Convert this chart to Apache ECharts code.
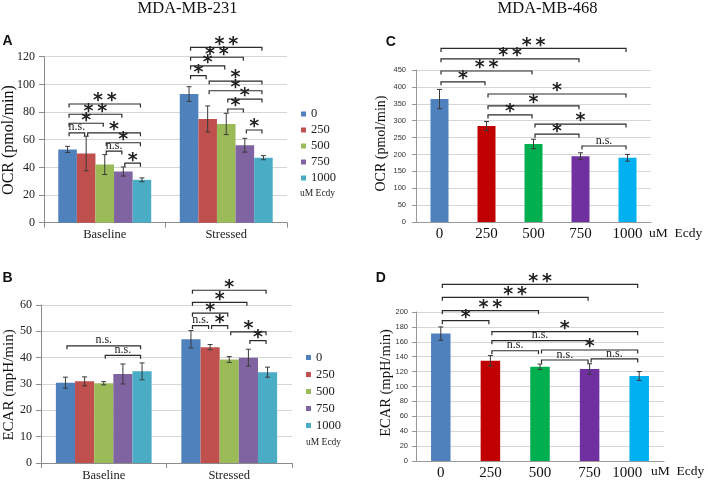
<!DOCTYPE html>
<html><head><meta charset="utf-8">
<script src="https://cdn.jsdelivr.net/npm/echarts@6/dist/echarts.min.js"></script>
<style>html,body{margin:0;padding:0;background:#fff}#c{width:708px;height:482px}</style>
</head><body><div id="c"></div>
<script>
// ---------- data ----------
const doses = ['0', '250', '500', '750', '1000'];
const groups = ['Baseline', 'Stressed'];
// Panel A (MDA-MB-231 OCR): per dose [Baseline, Stressed]
const ocrA = [[53, 93], [50, 75], [42, 71.4], [37, 56], [31, 47]];
const ocrAErr = [[2.2, 5.3], [12.5, 9.4], [7.2, 7.7], [3.3, 5], [1.4, 1.5]];
// Panel B (MDA-MB-231 ECAR)
const ecarB = [[30.5, 47], [31, 44], [30.3, 39.3], [33.8, 40], [34.8, 34.5]];
const ecarBErr = [[2.1, 3.3], [1.7, 1], [0.6, 1.1], [3.8, 3.2], [3.2, 1.9]];
// Panel C (MDA-MB-468 OCR)
const ocrC = [364, 284, 231, 195, 190];
const ocrCErr = [28.5, 13.5, 14, 10, 10];
// Panel D (MDA-MB-468 ECAR)
const ecarD = [171, 134.5, 126.5, 123.5, 114];
const ecarDErr = [9, 7, 3.6, 7, 6];
// y axis ticks [min, max, interval]
const ticksA = [0, 120, 20], ticksB = [0, 60, 10], ticksC = [0, 450, 50], ticksD = [0, 200, 20];
// significance brackets, grouped panels: [group, fromDose, toDose, y]
const sigA = [[0,0,4,85.8],[0,0,3,78.4],[0,0,2,71.9],[0,0,1,65],[0,1,4,65],[0,2,4,57.8],[0,2,3,51.8],[0,3,4,43],
  [1,0,4,126.8],[1,0,3,119.6],[1,0,2,113.3],[1,0,1,106.3],[1,1,4,102.4],[1,1,4,95.4],[1,2,4,89.4],[1,2,3,82.2],[1,3,4,67]];
const sigALabels = ['**','**','*','n.s.','*','*','n.s.','*','**','**','*','*','*','*','*','*','*'];
const sigB = [[0,0,4,44.5],[0,2,4,40.9],[1,0,4,65.6],[1,0,3,61],[1,0,2,56.9],[1,0,1,52.2],[1,1,2,52.2],[1,2,4,49.8],[1,3,4,46.5]];
const sigBLabels = ['n.s.','n.s.','*','*','*','n.s.','*','*','*'];
// single-group panels: [fromDose, toDose, y]
const sigC = [[0,4,514],[0,3,483],[0,2,447],[0,1,415],[1,4,379],[1,3,344],[1,2,317],[2,4,290],[2,3,260],[3,4,225]];
const sigCLabels = ['**','**','**','*','*','*','*','*','*','n.s.'];
const sigD = [[0,4,237],[0,3,219.7],[0,2,201.8],[0,1,188.4],[1,4,173.6],[1,3,161.5],[1,2,148],[2,4,149],[2,3,135.6],[3,4,137]];
const sigDLabels = ['**','**','**','*','*','n.s.','n.s.','*','n.s.','n.s.'];

const paletteAB = ['#4F81BD', '#C0504D', '#9BBB59', '#8064A2', '#4BACC6'];
const paletteCD = ['#4F81BD', '#C00000', '#00B050', '#7030A0', '#00B0F0'];

// ---------- helpers ----------
const SERIF = 'Liberation Serif';
const gapA = 0.235, gapB = 0.237;

function bracketShape(x1, x2, py, lab) {
  const isStar = lab.indexOf('*') >= 0;
  const txt = lab === '**' ? '*\u2009*' : lab;
  return {
    type: 'group', children: [
      { type: 'polyline', shape: { points: [[x1, py + 3.5], [x1, py], [x2, py], [x2, py + 3.5]] },
        style: { stroke: '#2b2b2b', lineWidth: 1.2, fill: null } },
      { type: 'text', style: {
          text: txt, x: (x1 + x2) / 2, y: isStar ? py + 7 : py + 0.5,
          align: 'center', verticalAlign: 'bottom',
          font: isStar ? 'bold 19px "DejaVu Sans"' : '12px "Liberation Serif"',
          fill: '#222' } }
    ]
  };
}

function groupedBracketSeries(axisIdx, sig, labels, gap) {
  return {
    type: 'custom', xAxisIndex: axisIdx, yAxisIndex: axisIdx, clip: false, z: 5,
    encode: { x: 0, y: 3 }, silent: true,
    data: sig,
    renderItem: function (p, api) {
      const g = api.value(0), a = api.value(1), b = api.value(2), y = api.value(3);
      const c = api.coord([g, y]);
      const band = api.size([1, 0])[0];
      const bw = band * (1 - gap) / doses.length;
      const x1 = c[0] + (a - 2) * bw + 1.5;
      const x2 = c[0] + (b - 2) * bw - 1.5;
      return bracketShape(x1, x2, c[1], labels[p.dataIndex]);
    }
  };
}

function singleBracketSeries(axisIdx, sig, labels) {
  return {
    type: 'custom', xAxisIndex: axisIdx, yAxisIndex: axisIdx, clip: false, z: 5,
    encode: { x: 0, y: 2 }, silent: true,
    data: sig,
    renderItem: function (p, api) {
      const a = api.value(0), b = api.value(1), y = api.value(2);
      const c1 = api.coord([a, y]), c2 = api.coord([b, y]);
      return bracketShape(c1[0] + 1.5, c2[0] - 1.5, c1[1], labels[p.dataIndex]);
    }
  };
}

function errShape(x, yTop, yBot) {
  const w = 2.5;
  const st = { stroke: '#3a3a3a', lineWidth: 1 };
  return { type: 'group', children: [
    { type: 'line', shape: { x1: x, y1: yTop, x2: x, y2: yBot }, style: st },
    { type: 'line', shape: { x1: x - w, y1: yTop, x2: x + w, y2: yTop }, style: st },
    { type: 'line', shape: { x1: x - w, y1: yBot, x2: x + w, y2: yBot }, style: st }
  ]};
}

function groupedErrSeries(axisIdx, vals, errs, gap) {
  const data = [];
  vals.forEach((row, s) => row.forEach((v, g) => data.push([g, s, v, errs[s][g]])));
  return {
    type: 'custom', xAxisIndex: axisIdx, yAxisIndex: axisIdx, clip: false, z: 4, silent: true,
    encode: { x: 0, y: 2 }, data: data,
    renderItem: function (p, api) {
      const g = api.value(0), s = api.value(1), v = api.value(2), e = api.value(3);
      const band = api.size([1, 0])[0];
      const bw = band * (1 - gap) / doses.length;
      const t = api.coord([g, v + e]), b = api.coord([g, v - e]);
      return errShape(t[0] + (s - 2) * bw, t[1], b[1]);
    }
  };
}

function singleErrSeries(axisIdx, vals, errs) {
  return {
    type: 'custom', xAxisIndex: axisIdx, yAxisIndex: axisIdx, clip: false, z: 4, silent: true,
    encode: { x: 0, y: 1 }, data: vals.map((v, i) => [i, v, errs[i]]),
    renderItem: function (p, api) {
      const i = api.value(0), v = api.value(1), e = api.value(2);
      const t = api.coord([i, v + e]), b = api.coord([i, v - e]);
      return errShape(t[0], t[1], b[1]);
    }
  };
}

function yAxisAB(idx, t) {
  return {
    type: 'value', gridIndex: idx, min: t[0], max: t[1], interval: t[2],
    axisLine: { show: true, lineStyle: { color: '#8c8c8c' } },
    axisTick: { show: true, length: 5, lineStyle: { color: '#8c8c8c' } },
    splitLine: { lineStyle: { color: '#d6d6d6' } },
    axisLabel: { fontFamily: SERIF, fontSize: 12, color: '#222', margin: 9 }
  };
}
function xAxisAB(idx) {
  return {
    type: 'category', gridIndex: idx, data: groups,
    axisLine: { lineStyle: { color: '#8c8c8c' } },
    axisTick: { show: true, length: 5, lineStyle: { color: '#8c8c8c' } },
    axisLabel: { fontFamily: SERIF, fontSize: 12.5, color: '#222', margin: 6, interval: 0 }
  };
}
function yAxisCD(idx, t, margin) {
  return {
    type: 'value', gridIndex: idx, min: t[0], max: t[1], interval: t[2],
    axisLine: { show: true, lineStyle: { color: '#9a9a9a' } },
    axisTick: { show: true, length: 4, lineStyle: { color: '#9a9a9a' } },
    splitLine: { lineStyle: { color: '#d6d6d6' } },
    axisLabel: { fontFamily: 'Liberation Sans', fontSize: 7.5, color: '#333', margin: margin }
  };
}
function xAxisCD(idx, shiftLast) {
  const lab = { fontFamily: SERIF, fontSize: 15, color: '#111', margin: 5, interval: 0, hideOverlap: false };
  if (shiftLast) {
    lab.formatter = function (v, i) { return i === doses.length - 1 ? '{s|' + v + '}' : v; };
    lab.rich = { s: { fontFamily: SERIF, fontSize: 15, color: '#111', padding: [0, 24, 0, 0] } };
  }
  return {
    type: 'category', gridIndex: idx, data: doses,
    axisLine: { lineStyle: { color: '#9a9a9a' } },
    axisTick: { show: false },
    axisLabel: lab
  };
}

// ---------- series ----------
const series = [];
doses.forEach((d, s) => series.push({
  type: 'bar', name: d, xAxisIndex: 0, yAxisIndex: 0, data: ocrA[s],
  barGap: '0%', barCategoryGap: (gapA * 100) + '%', itemStyle: { color: paletteAB[s] }, z: 2
}));
doses.forEach((d, s) => series.push({
  type: 'bar', name: d, xAxisIndex: 1, yAxisIndex: 1, data: ecarB[s],
  barGap: '0%', barCategoryGap: (gapB * 100) + '%', itemStyle: { color: paletteAB[s] }, z: 2
}));
series.push({
  type: 'bar', name: 'OCR468', xAxisIndex: 2, yAxisIndex: 2, barWidth: 18,
  data: ocrC.map((v, i) => ({ value: v, itemStyle: { color: paletteCD[i] } })), z: 2
});
series.push({
  type: 'bar', name: 'ECAR468', xAxisIndex: 3, yAxisIndex: 3, barWidth: 19.5,
  data: ecarD.map((v, i) => ({ value: v, itemStyle: { color: paletteCD[i] } })), z: 2
});
series.push(groupedErrSeries(0, ocrA, ocrAErr, gapA));
series.push(groupedErrSeries(1, ecarB, ecarBErr, gapB));
series.push(singleErrSeries(2, ocrC, ocrCErr));
series.push(singleErrSeries(3, ecarD, ecarDErr));
series.push(groupedBracketSeries(0, sigA, sigALabels, gapA));
series.push(groupedBracketSeries(1, sigB, sigBLabels, gapB));
series.push(singleBracketSeries(2, sigC, sigCLabels));
series.push(singleBracketSeries(3, sigD, sigDLabels));

function txt(x, y, text, font, opts) {
  opts = opts || {};
  return {
    type: 'text', x: x, y: y, rotation: opts.rot || 0, silent: true,
    style: { text: text, x: 0, y: 0, font: font, fill: opts.fill || '#111',
      align: opts.align || 'center', verticalAlign: 'middle' }
  };
}

const option = {
  animation: false,
  backgroundColor: '#fff',
  grid: [
    { left: 44, top: 56.7, width: 243, height: 166 },
    { left: 41, top: 305, width: 251, height: 160 },
    { left: 416, top: 70, width: 235, height: 152 },
    { left: 416, top: 312, width: 248, height: 149 }
  ],
  xAxis: [xAxisAB(0), xAxisAB(1), xAxisCD(2, false), xAxisCD(3, true)],
  yAxis: [yAxisAB(0, ticksA), yAxisAB(1, ticksB), yAxisCD(2, ticksC, 10), yAxisCD(3, ticksD, 8)],
  legend: [
    { data: doses, orient: 'vertical', left: 301, top: 107, padding: 0, itemGap: 2,
      itemWidth: 5, itemHeight: 5, icon: 'rect', selectedMode: false,
      textStyle: { fontFamily: SERIF, fontSize: 12.5, color: '#222', lineHeight: 14 } },
    { data: doses, orient: 'vertical', left: 306, top: 350.5, padding: 0, itemGap: 3,
      itemWidth: 5, itemHeight: 5, icon: 'rect', selectedMode: false,
      textStyle: { fontFamily: SERIF, fontSize: 12.5, color: '#222', lineHeight: 14 } }
  ],
  graphic: [
    txt(187.5, 9, 'MDA-MB-231', '16.5px "Liberation Serif"'),
    txt(547.5, 9, 'MDA-MB-468', '16.5px "Liberation Serif"'),
    txt(7.5, 41.5, 'A', 'bold 14px "Liberation Sans"'),
    txt(390.7, 42, 'C', 'bold 14px "Liberation Sans"'),
    txt(7.5, 278, 'B', 'bold 14px "Liberation Sans"'),
    txt(380.7, 277.7, 'D', 'bold 14px "Liberation Sans"'),
    txt(8.5, 140, 'OCR (pmol/min)', '16px "Liberation Serif"', { rot: Math.PI / 2 }),
    txt(9.5, 385, 'ECAR (mpH/min)', '15px "Liberation Serif"', { rot: Math.PI / 2 }),
    txt(381.5, 143.5, 'OCR (pmol/min)', '14px "Liberation Serif"', { rot: Math.PI / 2 }),
    txt(386.5, 383, 'ECAR (mpH/min)', '14.5px "Liberation Serif"', { rot: Math.PI / 2 }),
    txt(300, 193.5, 'uM Ecdy', '9.5px "Liberation Serif"', { align: 'left', fill: '#222' }),
    txt(306, 442, 'uM Ecdy', '9.5px "Liberation Serif"', { align: 'left', fill: '#222' }),
    txt(649, 233, 'uM  Ecdy', '13.5px "Liberation Serif"', { align: 'left' }),
    txt(651, 471, 'uM  Ecdy', '13.5px "Liberation Serif"', { align: 'left' })
  ],
  series: series
};

const chart = echarts.init(document.getElementById('c'), null, { renderer: 'canvas' });
chart.setOption(option);
</script>
</body></html>
